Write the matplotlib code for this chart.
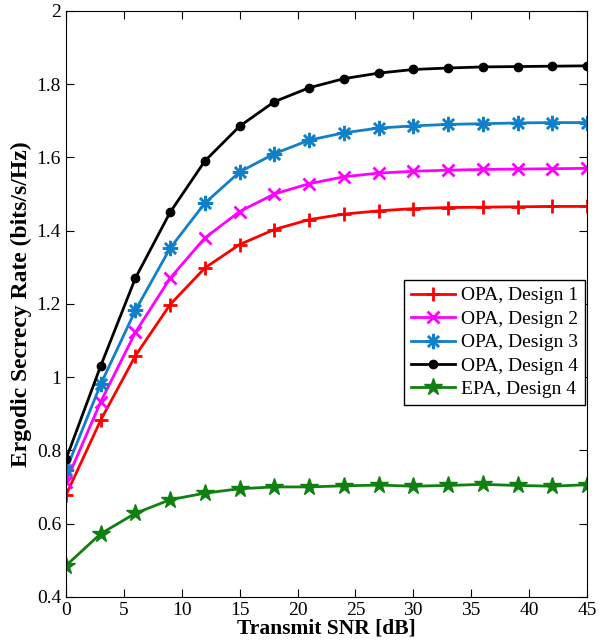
import numpy as np
import matplotlib.pyplot as plt

plt.rcParams['font.family'] = ['Liberation Serif', 'DejaVu Serif']

snr = [0, 3, 6, 9, 12, 15, 18, 21, 24, 27, 30, 33, 36, 39, 42, 45]

opa_d1 = [0.677, 0.882, 1.058, 1.198, 1.298, 1.362, 1.403, 1.430, 1.445, 1.454,
          1.460, 1.463, 1.464, 1.465, 1.466, 1.466]
opa_d2 = [0.713, 0.932, 1.122, 1.270, 1.380, 1.452, 1.500, 1.528, 1.547, 1.557,
          1.562, 1.565, 1.567, 1.568, 1.569, 1.570]
opa_d3 = [0.745, 0.980, 1.182, 1.352, 1.475, 1.560, 1.610, 1.647, 1.667, 1.680,
          1.686, 1.690, 1.692, 1.694, 1.695, 1.695]
opa_d4 = [0.775, 1.030, 1.270, 1.450, 1.590, 1.685, 1.752, 1.790, 1.815, 1.830,
          1.840, 1.844, 1.847, 1.848, 1.849, 1.850]
epa_d4 = [0.485, 0.572, 0.628, 0.665, 0.683, 0.695, 0.700, 0.700, 0.703, 0.705,
          0.702, 0.704, 0.707, 0.704, 0.702, 0.706]

labels = ['OPA, Design 1', 'OPA, Design 2', 'OPA, Design 3', 'OPA, Design 4', 'EPA, Design 4']

fig = plt.figure(figsize=(5.99, 6.41), dpi=100)
ax = fig.add_axes([0.110, 0.069, 0.870, 0.914])

ax.plot(snr, opa_d1, color='#ff0000', lw=2, marker='+', ms=10, mew=2, label=labels[0])
ax.plot(snr, opa_d2, color='#ff00ff', lw=2, marker='x', ms=8, mew=2, label=labels[1])
ax.plot(snr, opa_d3, color='#1080c8', lw=2, marker=(8, 2, 0), ms=11, mew=1.8, label=labels[2])
ax.plot(snr, opa_d4, color='black', lw=2, marker='o', ms=6, label=labels[3])
ax.plot(snr, epa_d4, color='#108010', lw=2, marker='*', ms=13, label=labels[4])

ax.set_xlim(0, 45)
ax.set_ylim(0.4, 2)
ax.set_xticks(np.arange(0, 46, 5))
ax.set_yticks(np.arange(0.4, 2.01, 0.2))
ax.set_yticklabels(['0.4', '0.6', '0.8', '1', '1.2', '1.4', '1.6', '1.8', '2'])
ax.tick_params(direction='in', top=True, right=True, labelsize=14, length=6)
ax.set_xlabel('Transmit SNR [dB]', fontsize=15.5, fontweight='bold', labelpad=0)
ax.set_ylabel('Ergodic Secrecy Rate (bits/s/Hz)', fontsize=17, fontweight='bold', labelpad=3)

leg = ax.legend(loc='center right', bbox_to_anchor=(1.0, 0.434), fontsize=14,
                fancybox=False, edgecolor='black', framealpha=1, borderaxespad=0.1,
                handlelength=2.3, borderpad=0.35, labelspacing=0.3, handletextpad=0.3)
leg.get_frame().set_linewidth(1)

fig.savefig('out.png', dpi=100)
